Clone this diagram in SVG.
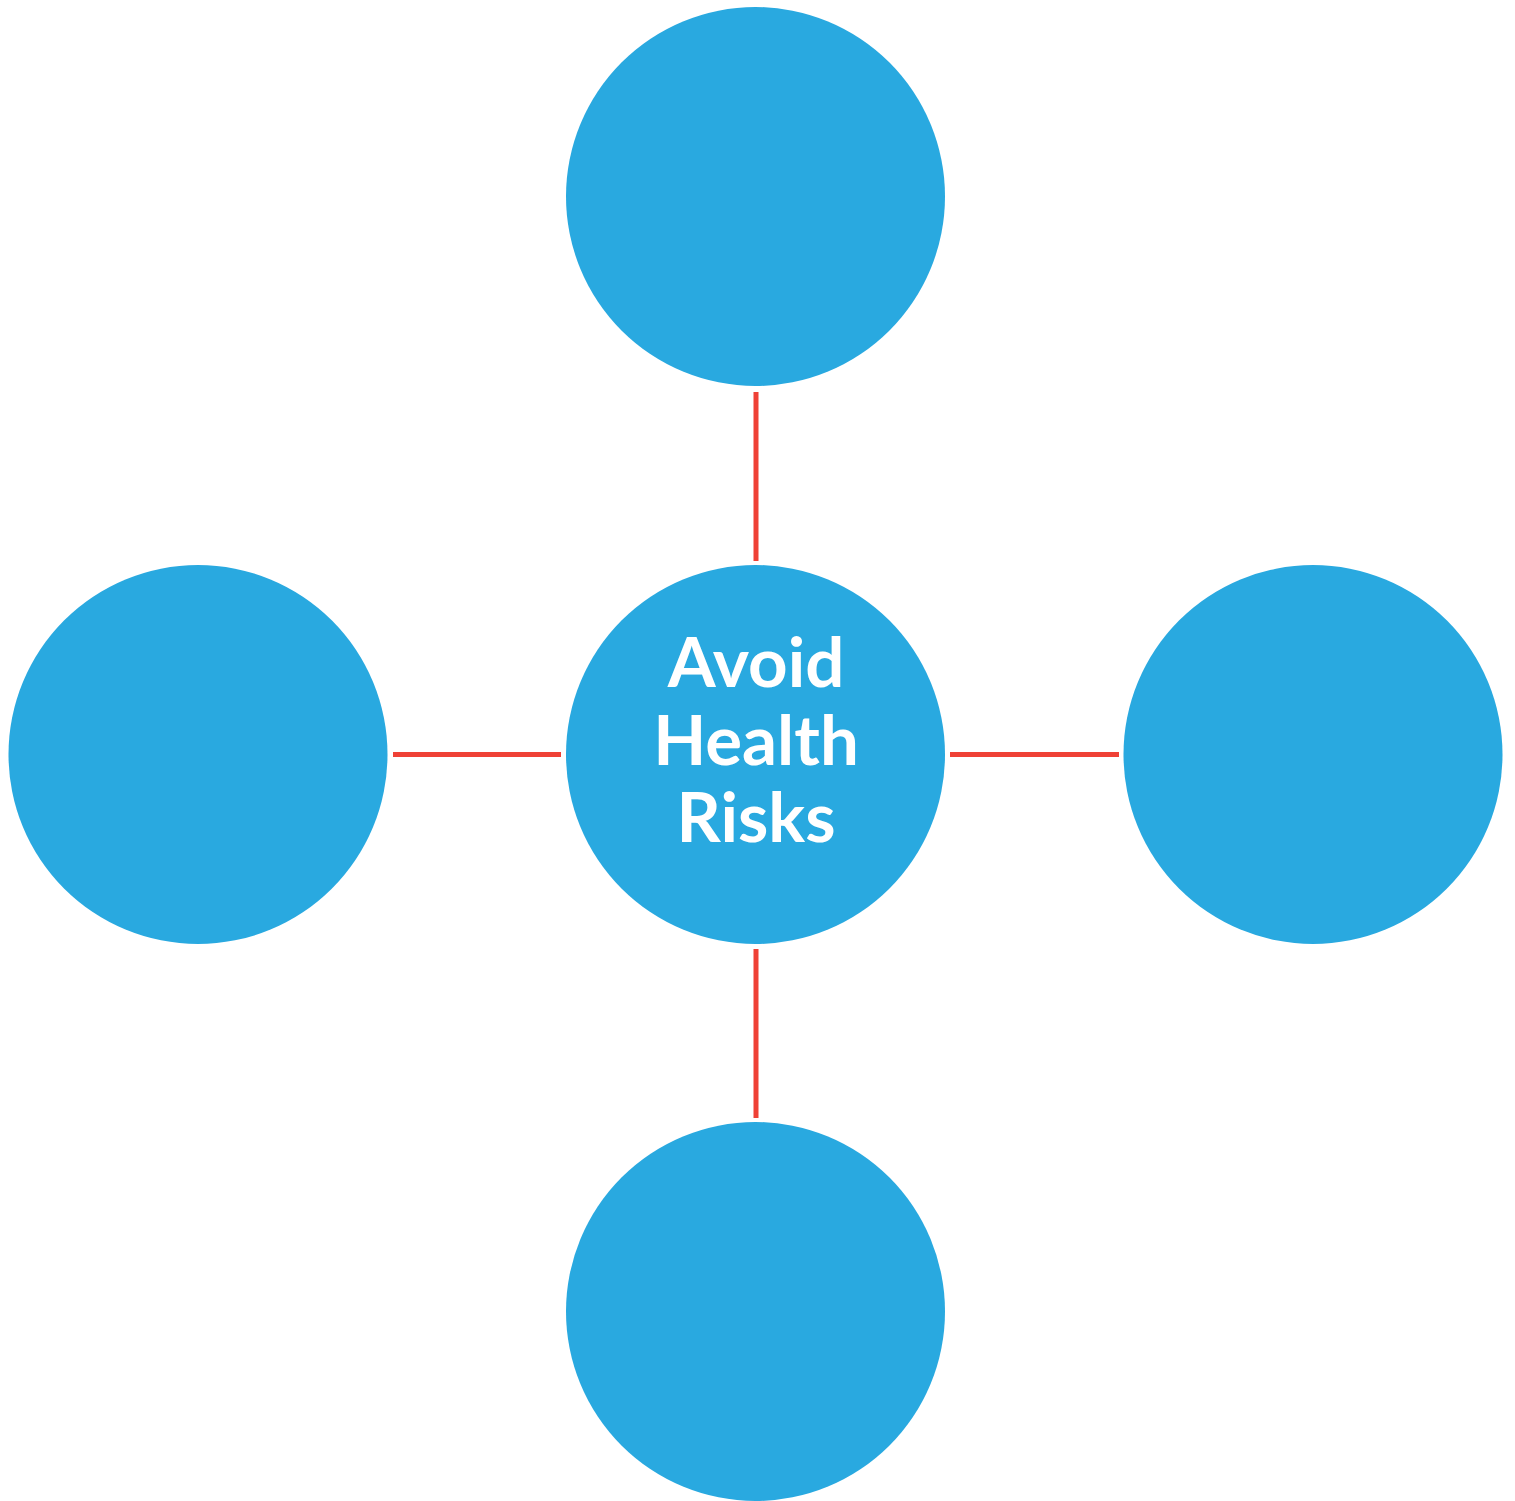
<svg xmlns="http://www.w3.org/2000/svg" width="1515" height="1501" viewBox="0 0 1515 1501">
<style>
.node{fill:#29A9E0}
.conn{stroke:#EF4136;stroke-width:5;fill:none}
.label{font-family:Lato,"Open Sans","Liberation Sans",sans-serif;font-weight:bold;font-size:69px;fill:#fff;text-anchor:middle}
</style>
<rect width="1515" height="1501" fill="#fff"/>
<g id="connectors">
<line class="conn" x1="756" y1="392" x2="756" y2="561"/>
<line class="conn" x1="756" y1="949" x2="756" y2="1118"/>
<line class="conn" x1="393" y1="754.5" x2="561" y2="754.5"/>
<line class="conn" x1="950" y1="754.5" x2="1119" y2="754.5"/>
</g>
<g id="node-center">
<circle class="node" cx="755.5" cy="754.5" r="189.5"/>
<text class="label" x="756" y="687">Avoid</text>
<text class="label" x="756" y="765">Health</text>
<text class="label" x="756" y="842">Risks</text>
</g>
<g id="node-top"><circle class="node" cx="755.5" cy="196.5" r="189.5"/></g>
<g id="node-left"><circle class="node" cx="198" cy="754.5" r="189.5"/></g>
<g id="node-right"><circle class="node" cx="1313" cy="754.5" r="189.5"/></g>
<g id="node-bottom"><circle class="node" cx="755.5" cy="1311.5" r="189.5"/></g>
</svg>
